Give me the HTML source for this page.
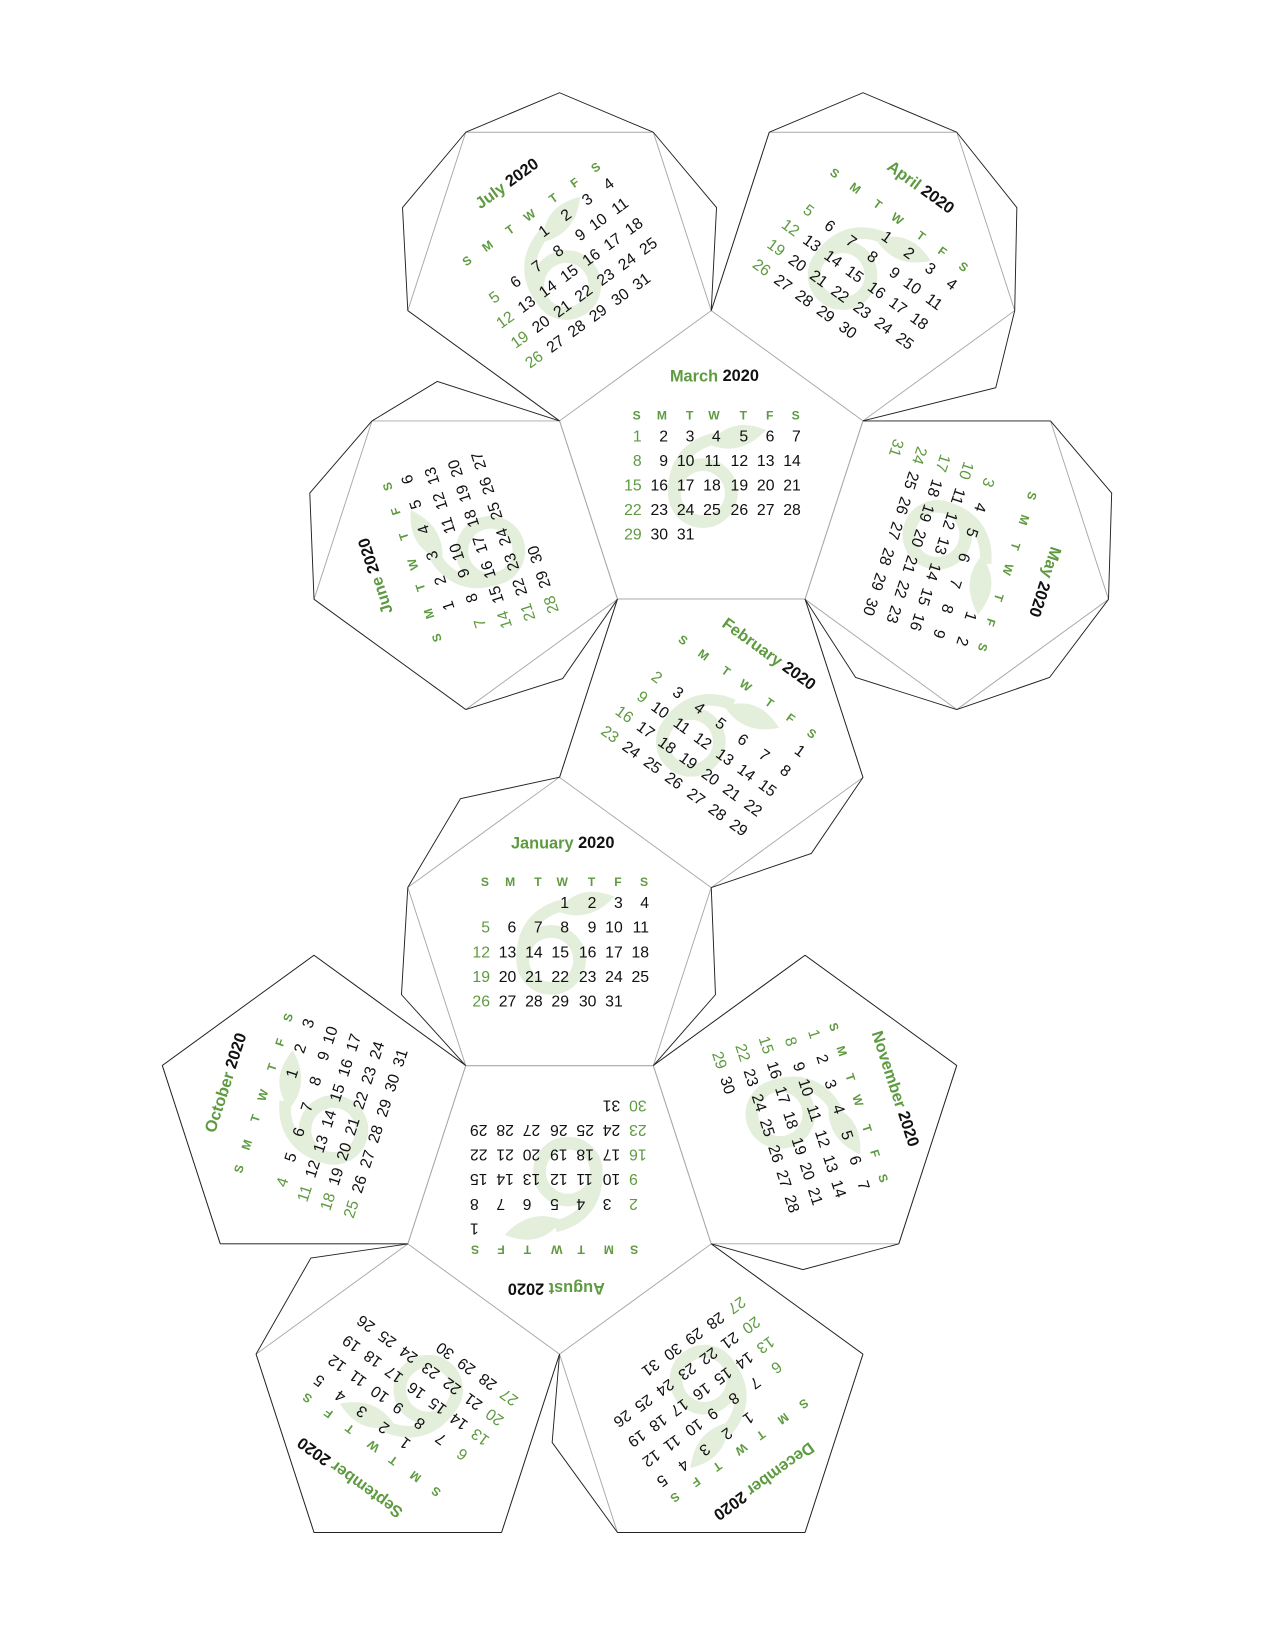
<!DOCTYPE html>
<html><head><meta charset="utf-8"><title>2020 Dodecahedron Calendar</title>
<style>
html,body{margin:0;padding:0;background:#fff;}
svg{display:block;}
text{font-family:"Liberation Sans",sans-serif;}
</style></head>
<body>
<svg id="net" width="1275" height="1650" viewBox="0 0 1210 1566" preserveAspectRatio="none" xmlns="http://www.w3.org/2000/svg">
<g id="flapLayer"></g>
<g id="faceLayer"></g>
<g id="edgeLayer"></g>
</svg>
<script>
const monthNames=["January","February","March","April","May","June","July","August","September","October","November","December"];
const firstDow=[3,6,0,3,5,1,3,6,2,4,0,2];
const monthDays=[31,29,31,30,31,30,31,31,30,31,30,31];
const dayHeaders=["S","M","T","W","T","F","S"];
const yearLabel="2020";
const faceMonths=[2,0,1,7,6,3,5,4,9,10,8,11];
const faceRot=[0,0,36,180,-36,36,-108,108,-72,72,216,144];

const NS="http://www.w3.org/2000/svg";
const R=151.4;
const GREEN="#5e9a40", BLACK="#111", LEAF="#e3eedb";
// face geometry (center + point-up flag)
const faceGeo=[
 {c:[675,446],up:true},{c:[531,889],up:true},{c:[675,691],up:false},{c:[531,1134],up:false},
 {c:[531,248],up:false},{c:[819,248],up:false},{c:[442,522],up:false},{c:[908,522],up:false},
 {c:[298,1058],up:true},{c:[764,1058],up:true},{c:[387,1332],up:true},{c:[675,1332],up:true}
];
// flaps: face index + apex point
const flaps=[
 [4,[382,197]],[4,[531,88]],[4,[680,197]],
 [5,[819,88]],[5,[965,197]],[5,[945,368]],
 [6,[294,468]],[6,[415,362]],[6,[534,644]],
 [7,[1055,468]],[7,[996,643]],[7,[812,643]],
 [2,[770,810]],
 [1,[437,758]],[1,[381,944]],[1,[679,944]],
 [9,[762,1205]],
 [10,[295,1194]],
 [11,[524,1369]]
];
function mk(tag,attrs,parent){const e=document.createElementNS(NS,tag);for(const k in attrs)e.setAttribute(k,attrs[k]);if(parent)parent.appendChild(e);return e;}
const verts=faceGeo.map(f=>{const a0=f.up?-90:90;const v=[];for(let k=0;k<5;k++){const a=(a0+72*k)*Math.PI/180;v.push([f.c[0]+R*Math.cos(a),f.c[1]+R*Math.sin(a)]);}return v;});
const edges=[];
verts.forEach((v,fi)=>{for(let k=0;k<5;k++){const A=v[k],B=v[(k+1)%5];edges.push({fi,A,B,m:[(A[0]+B[0])/2,(A[1]+B[1])/2],shared:false,flap:false});}});
edges.forEach(e=>{edges.forEach(o=>{if(o!==e&&o.fi!==e.fi&&Math.hypot(o.m[0]-e.m[0],o.m[1]-e.m[1])<6)e.shared=true;});});
const flapLayer=document.getElementById('flapLayer');
const faceLayer=document.getElementById('faceLayer');
const edgeLayer=document.getElementById('edgeLayer');
flaps.forEach(([fi,P])=>{
  let best=null,bd=1e9;
  edges.filter(e=>e.fi===fi&&!e.shared).forEach(e=>{const d=Math.hypot(e.m[0]-P[0],e.m[1]-P[1]);if(d<bd){bd=d;best=e;}});
  best.flap=true;
  const poly=mk('polygon',{points:[best.A,P,best.B].map(p=>p.join(',')).join(' '),fill:'#fff',stroke:'none'},flapLayer);
  
  
  const pl=mk('polyline',{points:[best.A,P,best.B].map(p=>p.join(',')).join(' '),fill:'none',stroke:'#222','stroke-width':0.9},edgeLayer);
  
  
});
const colOff=[-66,-41,-16,9,35,60,85];
faceGeo.forEach((f,fi)=>{
  const m=faceMonths[fi];
  const g=mk('g',{},faceLayer);
  
  
  const pg=mk('polygon',{points:verts[fi].map(p=>p.join(',')).join(' '),fill:'#fff',stroke:'#a8a8a8','stroke-width':0.9},g);
  
  
  const cg=mk('g',{transform:`translate(${f.c[0]},${f.c[1]}) rotate(${faceRot[fi]})`},g);
  const lf=mk('g',{fill:'none',stroke:LEAF},cg);
  
  
  mk('circle',{cx:-8,cy:22,r:27,'stroke-width':12},lf);
  mk('path',{d:'M -35 26 C -38 -5 -22 -24 4 -30','stroke-width':11},lf);
  mk('path',{d:'M -2 -24 Q 18 -52 52 -38 Q 28 -12 -2 -24 Z',fill:LEAF,stroke:'none'},lf);
  const t=mk('text',{x:3,y:-88,'text-anchor':'middle','dominant-baseline':'middle','font-size':15.5,'font-weight':'bold',fill:GREEN},cg);
  
  
  t.textContent=monthNames[m]+' ';
  const ys=mk('tspan',{fill:BLACK},t);ys.textContent=yearLabel;
  dayHeaders.forEach((h,i)=>{
    const ht=mk('text',{x:colOff[i]-1,y:-51,'text-anchor':'end','dominant-baseline':'middle','font-size':11.5,'font-weight':'bold',fill:GREEN},cg);
    
    
    ht.textContent=h;
  });
  for(let d=1;d<=monthDays[m];d++){
    const idx=firstDow[m]+d-1, col=idx%7, row=Math.floor(idx/7);
    const dt=mk('text',{x:colOff[col],y:-31+row*23.3,'text-anchor':'end','dominant-baseline':'middle','font-size':15,fill:col===0?GREEN:BLACK},cg);
    
    
    dt.textContent=d;
  }
});
edges.forEach(e=>{
  if(!e.shared&&!e.flap){
    const l=mk('line',{x1:e.A[0],y1:e.A[1],x2:e.B[0],y2:e.B[1],stroke:'#222','stroke-width':0.9},edgeLayer);
    
    
  }
});
</script>
</body></html>
